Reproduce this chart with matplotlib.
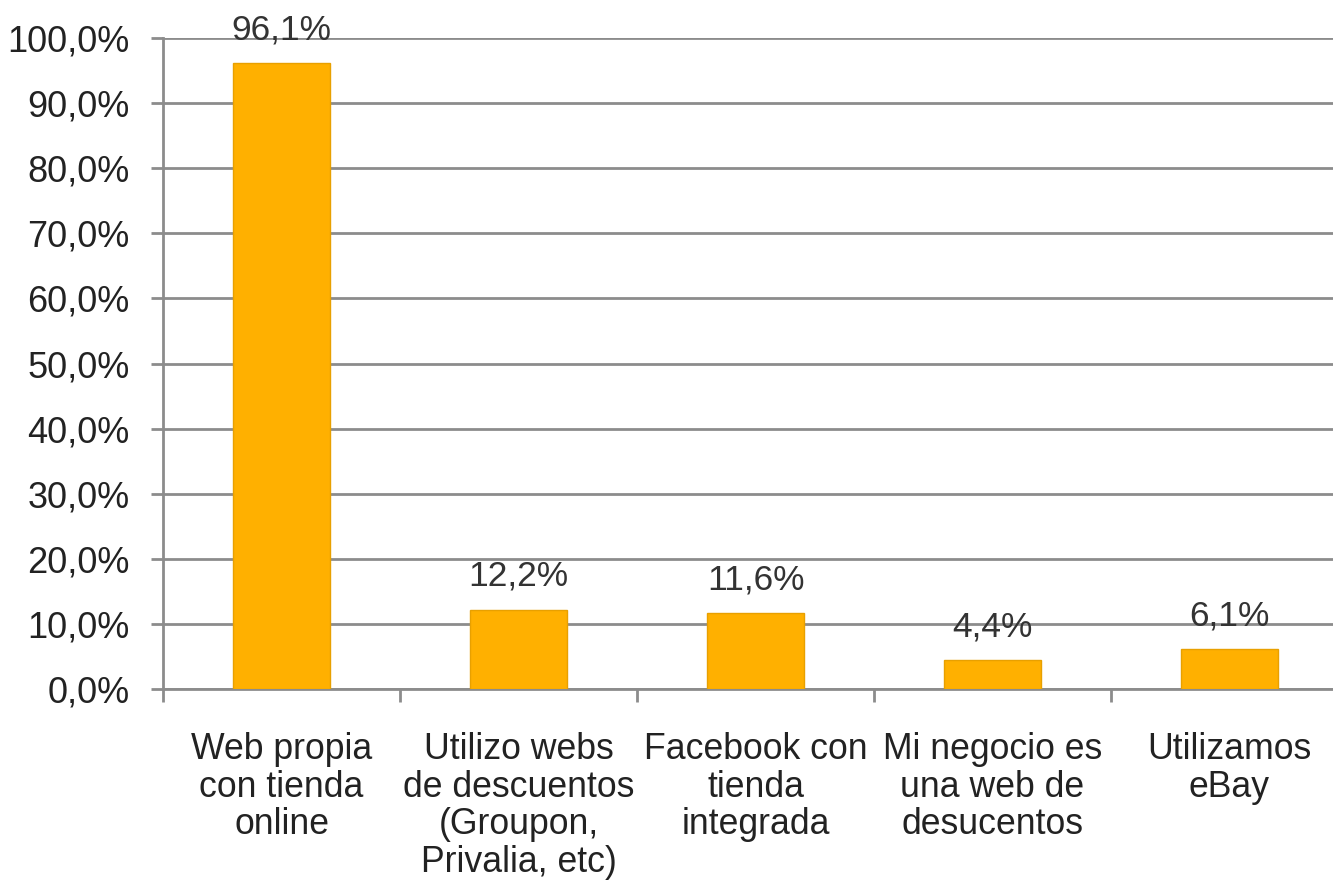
import matplotlib.pyplot as plt
import numpy as np

plt.rcParams['font.family'] = ['Liberation Sans', 'DejaVu Sans']

# datos
categorias = [
    'Web propia\ncon tienda\nonline',
    'Utilizo webs\nde descuentos\n(Groupon,\nPrivalia, etc)',
    'Facebook con\ntienda\nintegrada',
    'Mi negocio es\nuna web de\ndesucentos',
    'Utilizamos\neBay',
]
valores = [96.1, 12.2, 11.6, 4.4, 6.1]
etiquetas = ['96,1%', '12,2%', '11,6%', '4,4%', '6,1%']
ticks_y = np.arange(0, 101, 10)

W, H = 1333, 892
fig = plt.figure(figsize=(W / 100, H / 100), dpi=100)
ax = fig.add_axes([163 / W, 203 / H, 1185 / W, 651 / H])

gris = '#8c8c8c'
x = np.arange(len(categorias))
ax.bar(x, valores, width=0.41, color='#FFB000', edgecolor='#E8A000',
       linewidth=1, zorder=3)

for xi, v, t in zip(x, valores, etiquetas):
    ax.annotate(t, (xi, v), xytext=(0, 12), textcoords='offset points',
                ha='center', va='bottom', fontsize=25.5, color='#333333', zorder=4)

ax.set_xlim(-0.5, len(categorias) - 0.5)
ax.set_ylim(0, 100)
ax.set_yticks(ticks_y)
ax.set_yticklabels([f'{v:.1f}%'.replace('.', ',') for v in ticks_y])
ax.yaxis.grid(True, color=gris, linewidth=2, zorder=0)

ax.set_xticks(x)
ax.set_xticklabels(categorias, fontsize=25.7, color='#222222', linespacing=1.1,
                   va='top')
ax.set_xticks(np.arange(-0.5, len(categorias), 1.0), minor=True)
ax.tick_params(axis='x', which='major', length=0, pad=31)
ax.tick_params(axis='x', which='minor', length=9, width=2, color=gris)
ax.tick_params(axis='y', length=9, width=2, color=gris, labelsize=26,
               labelcolor='#222222', pad=15)

for s in ['top', 'right']:
    ax.spines[s].set_visible(False)
for s in ['left', 'bottom']:
    ax.spines[s].set_color(gris)
    ax.spines[s].set_linewidth(2)

fig.savefig('out.png', dpi=100)
